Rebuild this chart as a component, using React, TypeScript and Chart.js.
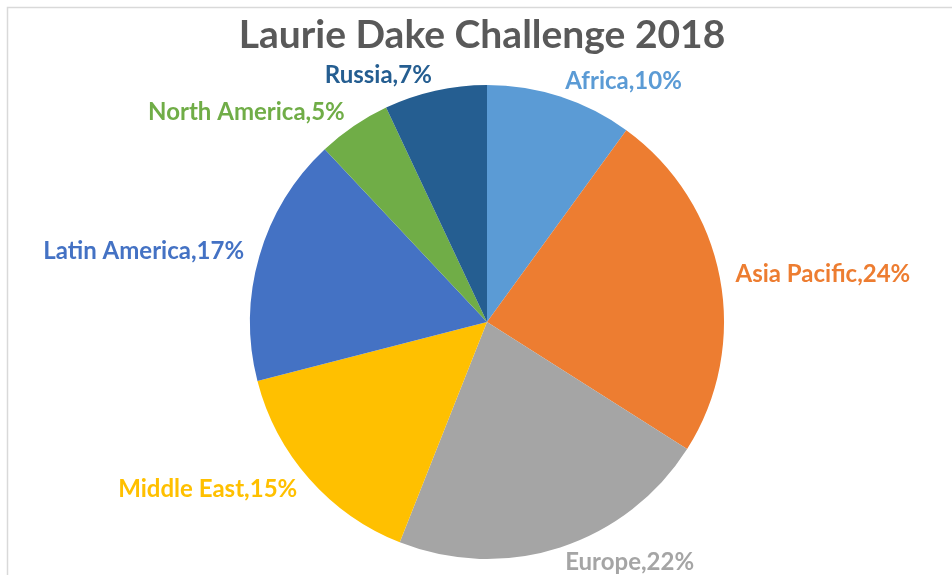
import { useEffect, useRef } from "react";
import { Chart, registerables } from "chart.js";

Chart.register(...registerables);

const chartTitle = "Laurie Dake Challenge 2018";
const categories = ["Africa", "Asia Pacific", "Europe", "Middle East", "Latin America", "North America", "Russia"];
const shares = [10, 24, 22, 15, 17, 5, 7];
const sliceColors = ["#5B9BD5", "#ED7D31", "#A5A5A5", "#FFC000", "#4472C4", "#70AD47", "#255E91"];

const labelPlugin = {
  id: "excelLabels",
  afterDraw(chart: any) {
    const ctx = chart.ctx as CanvasRenderingContext2D;
    ctx.save();
    // frame
    ctx.strokeStyle = "#d9d9d9";
    ctx.lineWidth = 1.5;
    ctx.strokeRect(7.5, 7.5, chart.width + 20, chart.height + 20);
    // title
    ctx.fillStyle = "#595959";
    ctx.font = "bold 39px Lato";
    ctx.textAlign = "center";
    ctx.textBaseline = "middle";
    ctx.fillText(chartTitle, 482, 35);
    // labels
    const meta = chart.getDatasetMeta(0);
    ctx.font = "bold 24px Lato";
    meta.data.forEach((arc: any, i: number) => {
      const p = arc.getProps(["x", "y", "startAngle", "endAngle", "outerRadius"], true);
      const mid = (p.startAngle + p.endAngle) / 2;
      const r = p.outerRadius + 16;
      const ax = p.x + Math.cos(mid) * r;
      const ay = p.y + Math.sin(mid) * r;
      ctx.fillStyle = sliceColors[i];
      ctx.textAlign = Math.cos(mid) >= 0 ? "left" : "right";
      ctx.textBaseline = "middle";
      ctx.fillText(`${categories[i]},${shares[i]}%`, ax, ay);
    });
    ctx.restore();
  },
};

export default function App() {
  const ref = useRef<HTMLCanvasElement | null>(null);
  useEffect(() => {
    document.body.style.margin = "0";
    if (!ref.current) return;
    const chart = new Chart(ref.current, {
      type: "pie",
      data: {
        labels: categories,
        datasets: [
          {
            data: shares,
            backgroundColor: sliceColors,
            borderWidth: 0,
          },
        ],
      },
      options: {
        responsive: false,
        animation: false,
        layout: { padding: { left: 250, right: 228, top: 85, bottom: 16 } },
        plugins: {
          legend: { display: false },
          title: { display: false },
          tooltip: { enabled: false },
        },
      },
      plugins: [labelPlugin],
    });
    return () => chart.destroy();
  }, []);
  return (
    <div style={{ position: "absolute", left: 0, top: 0, width: 952, height: 575, background: "#fff" }}>
      <canvas ref={ref} width={952} height={575} />
    </div>
  );
}
